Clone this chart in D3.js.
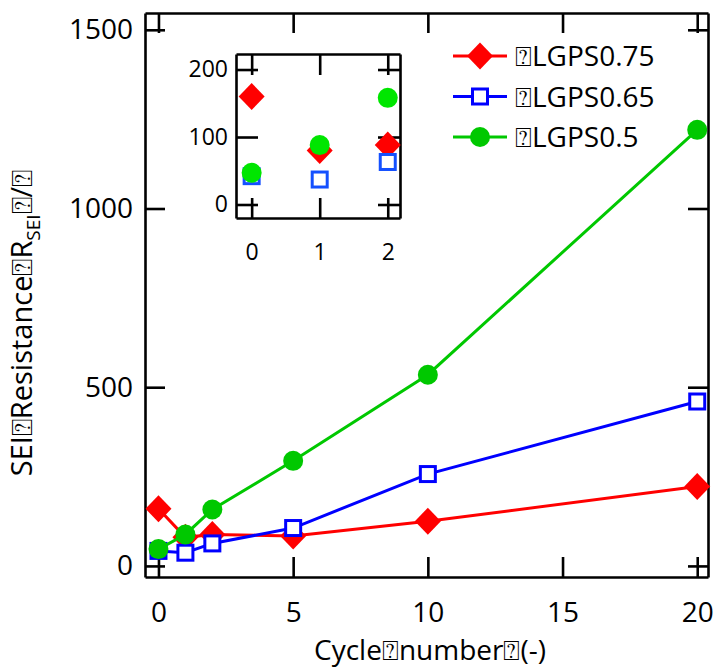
<!DOCTYPE html>
<html>
<head>
<meta charset="utf-8">
<script src="https://cdn.jsdelivr.net/npm/d3@7"></script>
<style>
body { margin: 0; background: #fff; }
text { font-family: "Open Sans", sans-serif; fill: #000; }
.axis path, .axis line { stroke: #000; stroke-width: 2.6; }
</style>
</head>
<body>
<div id="chart"></div>
<script>
// data
const cycles = [0, 1, 2, 5, 10, 20];
const lgps075 = [160, 80, 88, 84, 125, 222];
const lgps065 = [42, 37, 63, 106, 257, 460];
const lgps05 = [47, 88, 158, 294, 535, 1220];
// the reference shows missing-glyph boxes in its labels
const box = "\u2370";
const seriesNames = [box + "LGPS0.75", box + "LGPS0.65", box + "LGPS0.5"];
const xTicks = [0, 5, 10, 15, 20];
const yTicks = [0, 500, 1000, 1500];
const insetXTicks = [0, 1, 2];
const insetYTicks = [0, 100, 200];

const W = 717, H = 669;
const fmt = d3.format("d");

const svg = d3.select("#chart").append("svg")
    .attr("width", W)
    .attr("height", H);

// main scales
const x = d3.scaleLinear().domain([-0.5, 20.4]).range([145, 708]);
const y = d3.scaleLinear().domain([-31, 1547]).range([577, 13]);

const series = [
    {name: seriesNames[0], values: lgps075, color: "#ff0000", inColor: "#ff0000", shape: "diamond"},
    {name: seriesNames[1], values: lgps065, color: "#0000ff", inColor: "#1450ff", shape: "square"},
    {name: seriesNames[2], values: lgps05, color: "#00c800", inColor: "#00e600", shape: "circle"}
];

function drawMarker(g, shape, color, cx, cy) {
    if (shape === "diamond") {
        g.append("path")
            .attr("d", `M${cx},${cy - 13.5}L${cx + 13},${cy}L${cx},${cy + 13.5}L${cx - 13},${cy}Z`)
            .attr("fill", color);
    } else if (shape === "square") {
        g.append("rect")
            .attr("x", cx - 7.5).attr("y", cy - 7.5)
            .attr("width", 15).attr("height", 15)
            .attr("fill", "#fff")
            .attr("stroke", color)
            .attr("stroke-width", 3);
    } else {
        g.append("circle")
            .attr("cx", cx).attr("cy", cy).attr("r", 10)
            .attr("fill", color);
    }
}

// axes (ticks inward on all four sides)
svg.append("g").attr("class", "axis")
    .attr("transform", "translate(0,577)")
    .call(d3.axisBottom(x).tickValues(xTicks).tickFormat(fmt).tickSizeInner(-20).tickSizeOuter(0).tickPadding(25))
    .call(g => g.selectAll("text").attr("font-size", 28).attr("font-family", "Open Sans"));
svg.append("g").attr("class", "axis")
    .attr("transform", "translate(0,13)")
    .call(d3.axisTop(x).tickValues(xTicks).tickSizeInner(-20).tickSizeOuter(0).tickFormat(""));
svg.append("g").attr("class", "axis")
    .attr("transform", "translate(145,0)")
    .call(d3.axisLeft(y).tickValues(yTicks).tickFormat(fmt).tickSizeInner(-20).tickSizeOuter(0).tickPadding(12))
    .call(g => g.selectAll("text").attr("font-size", 28).attr("font-family", "Open Sans"));
svg.append("g").attr("class", "axis")
    .attr("transform", "translate(708,0)")
    .call(d3.axisRight(y).tickValues(yTicks).tickSizeInner(-20).tickSizeOuter(0).tickFormat(""));

// lines + markers
const line = d3.line()
    .x((d, i) => x(cycles[i]))
    .y(d => y(d));

series.forEach(s => {
    const g = svg.append("g");
    g.append("path")
        .datum(s.values)
        .attr("d", line)
        .attr("fill", "none")
        .attr("stroke", s.color)
        .attr("stroke-width", 3);
    s.values.forEach((v, i) => drawMarker(g, s.shape, s.color, x(cycles[i]), y(v)));
});

// legend
series.forEach((s, i) => {
    const ly = 56 + i * 40.5;
    const g = svg.append("g");
    g.append("line")
        .attr("x1", 453).attr("x2", 507)
        .attr("y1", ly).attr("y2", ly)
        .attr("stroke", s.color).attr("stroke-width", 3);
    drawMarker(g, s.shape, s.color, 480, ly);
    g.append("text")
        .attr("x", 515).attr("y", ly + 10)
        .attr("font-size", 28)
        .text(s.name);
});

// axis titles
svg.append("text")
    .attr("x", 430).attr("y", 660)
    .attr("text-anchor", "middle")
    .attr("font-size", 28)
    .text("Cycle" + box + "number" + box + "(-)");

const yl = svg.append("text")
    .attr("transform", "translate(32,323) rotate(-90)")
    .attr("text-anchor", "middle")
    .attr("font-size", 29);
yl.append("tspan").text("SEI" + box + "Resistance" + box + "R");
yl.append("tspan").attr("font-size", 19).attr("dy", 8).text("SEI");
yl.append("tspan").attr("dy", -8).text(box + "/" + box);

// inset
const ix = d3.scaleLinear().domain([-0.23, 2.18]).range([236, 400]);
const iy = d3.scaleLinear().domain([-20, 223]).range([218, 54]);

svg.append("g").attr("class", "axis")
    .attr("transform", "translate(0,218)")
    .call(d3.axisBottom(ix).tickValues(insetXTicks).tickFormat(fmt).tickSizeInner(-20).tickSizeOuter(0).tickPadding(26))
    .call(g => g.selectAll("text").attr("font-size", 23).attr("font-family", "Open Sans"));
svg.append("g").attr("class", "axis")
    .attr("transform", "translate(0,54)")
    .call(d3.axisTop(ix).tickValues(insetXTicks).tickSizeInner(-21).tickSizeOuter(0).tickFormat(""));
svg.append("g").attr("class", "axis")
    .attr("transform", "translate(236,0)")
    .call(d3.axisLeft(iy).tickValues(insetYTicks).tickFormat(fmt).tickSizeInner(-22).tickSizeOuter(0).tickPadding(8))
    .call(g => g.selectAll("text").attr("font-size", 23).attr("font-family", "Open Sans"));
svg.append("g").attr("class", "axis")
    .attr("transform", "translate(400,0)")
    .call(d3.axisRight(iy).tickValues(insetYTicks).tickSizeInner(-22).tickSizeOuter(0).tickFormat(""));

series.forEach(s => {
    const g = svg.append("g");
    insetXTicks.forEach((c, i) => drawMarker(g, s.shape, s.inColor, ix(c), iy(s.values[i])));
});
</script>
</body>
</html>
